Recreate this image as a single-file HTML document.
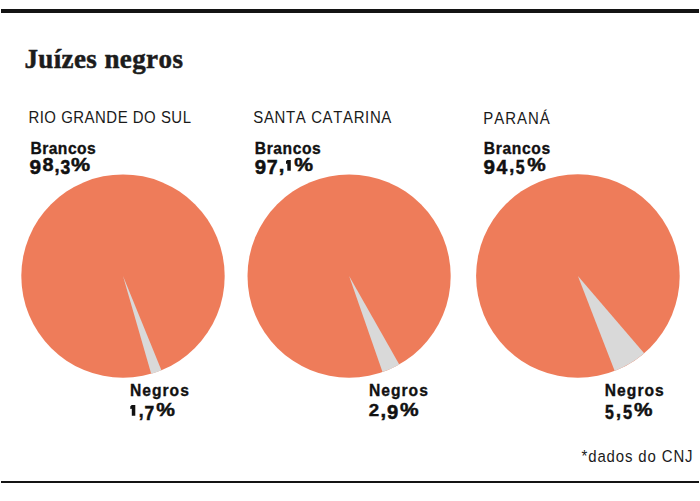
<!DOCTYPE html>
<html><head><meta charset="utf-8"><style>
html,body{margin:0;padding:0;background:#fff;width:700px;height:501px;overflow:hidden;}
svg{display:block;}
text{font-kerning:none;}
</style></head><body>
<svg width="700" height="501" viewBox="0 0 700 501">
<rect x="1" y="9" width="698" height="4" fill="#141414"/>
<rect x="1" y="481" width="698" height="2" fill="#141414"/>
<circle cx="123.0" cy="276.1" r="101.7" fill="#ee7c5a"/>
<path d="M123.0,276.1 L161.43,370.26 A101.7,101.7 0 0 1 151.20,373.81 Z" fill="#d9d9d9"/>
<circle cx="349.1" cy="276.1" r="101.6" fill="#ee7c5a"/>
<path d="M349.1,276.1 L399.28,364.44 A101.6,101.6 0 0 1 382.51,372.05 Z" fill="#d9d9d9"/>
<circle cx="577.9" cy="276.0" r="101.8" fill="#ee7c5a"/>
<path d="M577.9,276.0 L644.15,353.29 A101.8,101.8 0 0 1 614.71,370.91 Z" fill="#d9d9d9"/>
<text transform="translate(24.40,68) scale(1.0,1)" font-size="27" font-weight="700" font-family="'Liberation Serif', serif" fill="#1c1c1c" stroke="#1c1c1c" stroke-width="0.5" textLength="158.50" lengthAdjust="spacing">Juízes negros</text>
<text transform="translate(28.40,123) scale(0.88,1)" font-size="17" font-weight="400" font-family="'Liberation Sans', sans-serif" fill="#1a1a1a" textLength="184.77" lengthAdjust="spacing">RIO GRANDE DO SUL</text>
<text transform="translate(253.30,123) scale(0.88,1)" font-size="17" font-weight="400" font-family="'Liberation Sans', sans-serif" fill="#1a1a1a" textLength="156.82" lengthAdjust="spacing">SANTA CATARINA</text>
<text transform="translate(483.30,124.3) scale(0.88,1)" font-size="17" font-weight="400" font-family="'Liberation Sans', sans-serif" fill="#1a1a1a" textLength="75.45" lengthAdjust="spacing">PARANÁ</text>
<text transform="translate(30.40,153.8) scale(0.92,1)" font-size="17" font-weight="700" font-family="'Liberation Sans', sans-serif" fill="#111" stroke="#111" stroke-width="0.35" textLength="71.09" lengthAdjust="spacing">Brancos</text>
<text transform="translate(254.80,153.8) scale(0.92,1)" font-size="17" font-weight="700" font-family="'Liberation Sans', sans-serif" fill="#111" stroke="#111" stroke-width="0.35" textLength="71.74" lengthAdjust="spacing">Brancos</text>
<text transform="translate(483.70,153.8) scale(0.92,1)" font-size="17" font-weight="700" font-family="'Liberation Sans', sans-serif" fill="#111" stroke="#111" stroke-width="0.35" textLength="72.39" lengthAdjust="spacing">Brancos</text>
<text transform="translate(129.90,395.8) scale(0.92,1)" font-size="17" font-weight="700" font-family="'Liberation Sans', sans-serif" fill="#111" stroke="#111" stroke-width="0.35" textLength="64.13" lengthAdjust="spacing">Negros</text>
<text transform="translate(368.90,395.8) scale(0.92,1)" font-size="17" font-weight="700" font-family="'Liberation Sans', sans-serif" fill="#111" stroke="#111" stroke-width="0.35" textLength="64.13" lengthAdjust="spacing">Negros</text>
<text transform="translate(604.80,395.8) scale(0.92,1)" font-size="17" font-weight="700" font-family="'Liberation Sans', sans-serif" fill="#111" stroke="#111" stroke-width="0.35" textLength="64.13" lengthAdjust="spacing">Negros</text>
<text transform="translate(581.50,461.8) scale(0.88,1)" font-size="17" font-weight="400" font-family="'Liberation Sans', sans-serif" fill="#1a1a1a" textLength="126.25" lengthAdjust="spacing">*dados do CNJ</text>
<text transform="translate(29.48,173.60) scale(1.0693,1.0358)" font-size="19.5" font-weight="700" font-family="'Liberation Sans', sans-serif" fill="#111" stroke="#111" stroke-width="0.5">9</text>
<text transform="translate(42.47,170.51) scale(1.0181,0.9851)" font-size="19.5" font-weight="700" font-family="'Liberation Sans', sans-serif" fill="#111" stroke="#111" stroke-width="0.5">8</text>
<text transform="translate(54.47,172.09) scale(0.9320,1.0638)" font-size="19.5" font-weight="700" font-family="'Liberation Sans', sans-serif" fill="#111" stroke="#111" stroke-width="0.5">,</text>
<text transform="translate(60.50,173.78) scale(0.8976,0.9975)" font-size="19.5" font-weight="700" font-family="'Liberation Sans', sans-serif" fill="#111" stroke="#111" stroke-width="0.5">3</text>
<text transform="translate(71.07,171.05) scale(1.1017,0.9839)" font-size="19.5" font-weight="700" font-family="'Liberation Sans', sans-serif" fill="#111" stroke="#111" stroke-width="0.5">%</text>
<text transform="translate(254.69,173.70) scale(1.0481,1.0285)" font-size="19.5" font-weight="700" font-family="'Liberation Sans', sans-serif" fill="#111" stroke="#111" stroke-width="0.5">9</text>
<text transform="translate(266.66,174.20) scale(1.0054,1.0063)" font-size="19.5" font-weight="700" font-family="'Liberation Sans', sans-serif" fill="#111" stroke="#111" stroke-width="0.5">7</text>
<text transform="translate(278.72,172.14) scale(1.0395,1.0469)" font-size="19.5" font-weight="700" font-family="'Liberation Sans', sans-serif" fill="#111" stroke="#111" stroke-width="0.5">,</text>
<path d="M286.00,161.10 L287.30,160.00 L290.80,160.00 L290.80,170.80 L287.30,170.80 L287.30,163.60 L286.00,163.90 Z" fill="#111"/>
<text transform="translate(294.37,170.86) scale(1.0833,0.9475)" font-size="19.5" font-weight="700" font-family="'Liberation Sans', sans-serif" fill="#111" stroke="#111" stroke-width="0.5">%</text>
<text transform="translate(483.48,173.70) scale(1.0587,1.0285)" font-size="19.5" font-weight="700" font-family="'Liberation Sans', sans-serif" fill="#111" stroke="#111" stroke-width="0.5">9</text>
<text transform="translate(496.51,174.20) scale(0.9957,1.0734)" font-size="19.5" font-weight="700" font-family="'Liberation Sans', sans-serif" fill="#111" stroke="#111" stroke-width="0.5">4</text>
<text transform="translate(509.17,172.04) scale(0.9320,1.0806)" font-size="19.5" font-weight="700" font-family="'Liberation Sans', sans-serif" fill="#111" stroke="#111" stroke-width="0.5">,</text>
<text transform="translate(515.71,174.01) scale(0.8142,0.9922)" font-size="19.5" font-weight="700" font-family="'Liberation Sans', sans-serif" fill="#111" stroke="#111" stroke-width="0.5">5</text>
<text transform="translate(527.18,170.86) scale(1.0649,0.9475)" font-size="19.5" font-weight="700" font-family="'Liberation Sans', sans-serif" fill="#111" stroke="#111" stroke-width="0.5">%</text>
<path d="M130.30,406.20 L131.80,405.10 L135.30,405.10 L135.30,415.80 L131.80,415.80 L131.80,408.70 L130.30,409.00 Z" fill="#111"/>
<text transform="translate(138.81,416.94) scale(0.8961,1.0806)" font-size="19.5" font-weight="700" font-family="'Liberation Sans', sans-serif" fill="#111" stroke="#111" stroke-width="0.5">,</text>
<text transform="translate(144.55,419.50) scale(0.8962,1.0063)" font-size="19.5" font-weight="700" font-family="'Liberation Sans', sans-serif" fill="#111" stroke="#111" stroke-width="0.5">7</text>
<text transform="translate(156.28,415.65) scale(1.0772,0.9621)" font-size="19.5" font-weight="700" font-family="'Liberation Sans', sans-serif" fill="#111" stroke="#111" stroke-width="0.5">%</text>
<text transform="translate(368.75,415.60) scale(0.9587,0.8079)" font-size="19.5" font-weight="700" font-family="'Liberation Sans', sans-serif" fill="#111" stroke="#111" stroke-width="0.5">2</text>
<text transform="translate(380.62,416.94) scale(1.0395,1.0806)" font-size="19.5" font-weight="700" font-family="'Liberation Sans', sans-serif" fill="#111" stroke="#111" stroke-width="0.5">,</text>
<text transform="translate(387.00,419.00) scale(1.0376,1.0575)" font-size="19.5" font-weight="700" font-family="'Liberation Sans', sans-serif" fill="#111" stroke="#111" stroke-width="0.5">9</text>
<text transform="translate(399.88,415.76) scale(1.0711,0.9475)" font-size="19.5" font-weight="700" font-family="'Liberation Sans', sans-serif" fill="#111" stroke="#111" stroke-width="0.5">%</text>
<text transform="translate(605.11,419.01) scale(0.8142,0.9995)" font-size="19.5" font-weight="700" font-family="'Liberation Sans', sans-serif" fill="#111" stroke="#111" stroke-width="0.5">5</text>
<text transform="translate(616.07,416.84) scale(0.9320,1.0469)" font-size="19.5" font-weight="700" font-family="'Liberation Sans', sans-serif" fill="#111" stroke="#111" stroke-width="0.5">,</text>
<text transform="translate(622.89,419.01) scale(0.8452,0.9995)" font-size="19.5" font-weight="700" font-family="'Liberation Sans', sans-serif" fill="#111" stroke="#111" stroke-width="0.5">5</text>
<text transform="translate(633.88,415.76) scale(1.0649,0.9475)" font-size="19.5" font-weight="700" font-family="'Liberation Sans', sans-serif" fill="#111" stroke="#111" stroke-width="0.5">%</text>
</svg>
</body></html>
